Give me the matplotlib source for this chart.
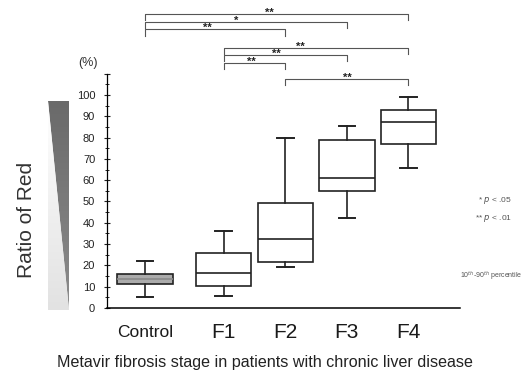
"""
Ratio of Red by Metavir fibrosis stage (box plot, 10th-90th percentile whiskers).
"""

import numpy as np
import matplotlib.pyplot as plt
from matplotlib.patches import Polygon
from matplotlib.colors import LinearSegmentedColormap
from matplotlib.ticker import MultipleLocator

plt.rcParams['font.family'] = ['Liberation Sans', 'DejaVu Sans']

# Data
stages = ["Control", "F1", "F2", "F3", "F4"]
p10 = [5.2, 5.6, 19.2, 42.3, 65.7]
q1 = [11.3, 10.3, 21.6, 54.9, 77.0]
median = [13.5, 16.4, 32.4, 61.0, 87.3]
q3 = [16.0, 25.8, 49.3, 78.9, 93.0]
p90 = [22.1, 36.2, 79.8, 85.4, 99.1]

# significance comparisons (from, to, mark)
comparisons = [
    ("Control", "F4", "**"), ("Control", "F3", "*"), ("Control", "F2", "**"),
    ("F1", "F4", "**"), ("F1", "F3", "**"), ("F1", "F2", "**"),
    ("F2", "F4", "**"),
]

# layout
positions = [0.72, 2, 3, 4, 5]
bracket_y = [138, 134.4, 130.8, 122.2, 118.8, 115.0, 107.5]
star_x = [2.74, 2.2, 1.74, 3.25, 2.85, 2.45, 4.0]

fig = plt.figure(figsize=(5.27, 3.75), dpi=100)
ax = fig.add_axes([0.2030, 0.17867, 0.6698, 0.6248])

stats = []
for i, name in enumerate(stages):
    stats.append(dict(label=name, whislo=p10[i], q1=q1[i], med=median[i],
                      q3=q3[i], whishi=p90[i], fliers=[]))

bp = ax.bxp(stats, positions=positions, widths=0.9, capwidths=0.27,
            showfliers=False, patch_artist=True,
            boxprops=dict(edgecolor="#222222", linewidth=1.2, facecolor="white"),
            medianprops=dict(color="#222222", linewidth=1.2),
            whiskerprops=dict(color="#222222", linewidth=1.2),
            capprops=dict(color="#222222", linewidth=1.4))
bp["boxes"][0].set_facecolor("#ababab")
bp["medians"][0].set_color("#8a8a8a")

ax.set_xlim(0.102, 5.837)
ax.set_ylim(0, 110)
ax.yaxis.set_major_locator(MultipleLocator(10))
ax.yaxis.set_minor_locator(MultipleLocator(5))
ax.set_yticks(np.arange(0, 111, 10))
ax.set_yticklabels([str(v) if v <= 100 else "" for v in range(0, 111, 10)])
ax.tick_params(axis="y", which="major", direction="inout", length=4,
               width=0.8, labelsize=8, pad=6.5, colors="#222222")
ax.tick_params(axis="y", which="minor", direction="inout", length=3, width=0.6)

ax.set_xticks(positions)
ax.set_xticklabels(stages)
ax.tick_params(axis="x", length=0, pad=18)
for lab in ax.get_xticklabels():
    lab.set_verticalalignment("center")
    lab.set_fontsize(12.5 if lab.get_text() == "Control" else 15)
    lab.set_color("#1a1a1a")

for side in ["top", "right"]:
    ax.spines[side].set_visible(False)
ax.spines["left"].set_linewidth(0.9)
ax.spines["bottom"].set_linewidth(1.1)

# significance brackets
pos = dict(zip(stages, positions))
for (a, b, mark), y, sx in zip(comparisons, bracket_y, star_x):
    xa, xb = pos[a], pos[b]
    ax.plot([xa, xa, xb, xb], [y - 3, y, y, y - 3], color="#555555",
            lw=0.8, clip_on=False)
    ax.text(sx, y + 0.6, mark, ha="center", va="center", fontsize=8,
            fontweight="bold", color="#222222", clip_on=False)

# gradient wedge on the left
wax = fig.add_axes([0.0911, 0.1733, 0.0398, 0.557])
wax.set_xlim(0, 1)
wax.set_ylim(0, 1)
wax.axis("off")
grad = np.linspace(0, 1, 200).reshape(-1, 1)
dark_cmap = LinearSegmentedColormap.from_list("dk", ["#8c8c8c", "#6a6a6a"])
light_cmap = LinearSegmentedColormap.from_list("lt", ["#e2e2e2", "#ffffff"])
dark = wax.imshow(grad, extent=[0, 1, 0, 1], origin="lower", cmap=dark_cmap,
                  aspect="auto")
dark.set_clip_path(Polygon([[0, 1], [1, 1], [1, 0]], closed=True,
                           transform=wax.transData))
light = wax.imshow(grad, extent=[0, 1, 0, 1], origin="lower", cmap=light_cmap,
                   aspect="auto")
light.set_clip_path(Polygon([[0, 1], [0, 0], [1, 0]], closed=True,
                            transform=wax.transData))

fig.text(27 / 527, 1 - 220 / 375, "Ratio of Red", rotation=90, ha="center",
         va="center", fontsize=15, color="#333333")
fig.text(88 / 527, 1 - 63 / 375, "(%)", ha="center", va="center",
         fontsize=9, color="#333333")
fig.text(265 / 527, 1 - 363 / 375,
         "Metavir fibrosis stage in patients with chronic liver disease",
         ha="center", va="center", fontsize=11.6, color="#222222")

fig.text(512 / 527, 1 - 201 / 375, "* $p$ < .05", ha="right", va="center",
         fontsize=6, color="#555555")
fig.text(512 / 527, 1 - 218 / 375, "** $p$ < .01", ha="right", va="center",
         fontsize=6, color="#555555")
fig.text(522 / 527, 1 - 276 / 375, "10$^{th}$-90$^{th}$ percentile",
         ha="right", va="center", fontsize=5, color="#555555")

fig.savefig("out.png", dpi=100, facecolor="white")
